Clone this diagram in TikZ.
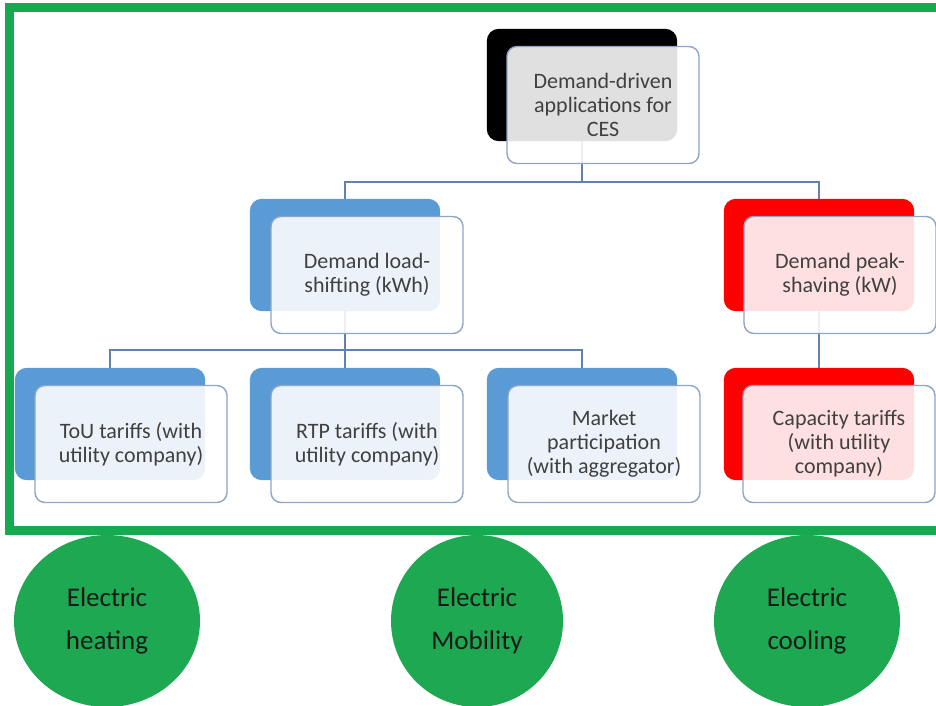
\documentclass[tikz,border=0pt]{standalone}
\usepackage{fontspec}
\setmainfont{Carlito}
\usetikzlibrary{shapes.geometric}
\definecolor{framegreen}{RGB}{22,170,80}
\definecolor{circgreen}{RGB}{30,168,82}
\definecolor{sablue}{RGB}{91,155,213}
\definecolor{conncol}{RGB}{95,130,175}
\definecolor{edgecol}{RGB}{140,165,200}
\definecolor{txtgray}{RGB}{64,64,64}
\tikzset{
  backbox/.style={rectangle, rounded corners=12pt, minimum width=190pt, minimum height=112pt, inner sep=0pt},
  frontbox/.style={rectangle, rounded corners=10pt, minimum width=192pt, minimum height=117pt, inner sep=0pt,
    draw=edgecol, line width=1.4pt, fill=white, fill opacity=0.88, text opacity=1,
    text=txtgray, align=center, font=\fontsize{22}{24}\selectfont},
  conn/.style={draw=conncol, line width=1.8pt},
  bubble/.style={ellipse, fill=circgreen, inner sep=0pt, align=center, text=black!90,
    font=\fontsize{27}{43}\selectfont},
}
\begin{document}
\begin{tikzpicture}[x=1pt,y=-1pt]
\useasboundingbox (0,0) rectangle (936,706);
\clip (0,0) rectangle (936,706);
% frame
\draw[framegreen, line width=9pt] (960,8) -- (9,8) -- (9,530) -- (960,530);
% connectors
\coordinate (h1) at (582,182);
\coordinate (h2) at (345,350);
\node[backbox] (b0) at (582,85) {};
\node[backbox] (b1) at (345,255) {};
\node[backbox] (b2) at (819,255) {};
\node[backbox] (b3) at (110,424) {};
\node[backbox] (b4) at (345,424) {};
\node[backbox] (b5) at (582,424) {};
\node[backbox] (b6) at (819,424) {};
\draw[conn] (b0.south) -- (h1) -| (b1.north);
\draw[conn] (h1) -| (b2.north);
\draw[conn] (b1.south) -- (h2) -| (b3.north);
\draw[conn] (h2) -- (b4.north);
\draw[conn] (h2) -| (b5.north);
\draw[conn] (b2.south) -- (b6.north);
% back boxes
\fill[black, rounded corners=12pt] (b0.south west) rectangle (b0.north east);
\fill[sablue, rounded corners=12pt] (b1.south west) rectangle (b1.north east);
\fill[red, rounded corners=12pt] (b2.south west) rectangle (b2.north east);
\fill[sablue, rounded corners=12pt] (b3.south west) rectangle (b3.north east);
\fill[sablue, rounded corners=12pt] (b4.south west) rectangle (b4.north east);
\fill[sablue, rounded corners=12pt] (b5.south west) rectangle (b5.north east);
\fill[red, rounded corners=12pt] (b6.south west) rectangle (b6.north east);
% front boxes
\node[frontbox] (f0) at (603,105) {Demand-driven\\applications for\\CES};
\node[frontbox] (f1) at (367,275) {Demand load-\\shifting (kWh)};
\node[frontbox] (f2) at (840,275) {Demand peak-\\shaving (kW)};
\node[frontbox] (f3) at (131,444) {ToU tariffs (with\\utility company)};
\node[frontbox] (f4) at (367,444) {RTP tariffs (with\\utility company)};
\node[frontbox] (f5) at (604,444) {Market\\participation\\(with aggregator)};
\node[frontbox] (f6) at (839,444) {Capacity tariffs\\(with utility\\company)};
% bubbles
\node[bubble, minimum width=186pt, minimum height=172pt] (c1) at (107,621) {Electric\\heating};
\node[bubble, minimum width=172pt, minimum height=172pt] (c2) at (477,621) {Electric\\Mobility};
\node[bubble, minimum width=186pt, minimum height=172pt] (c3) at (807,621) {Electric\\cooling};
\end{tikzpicture}
\end{document}
